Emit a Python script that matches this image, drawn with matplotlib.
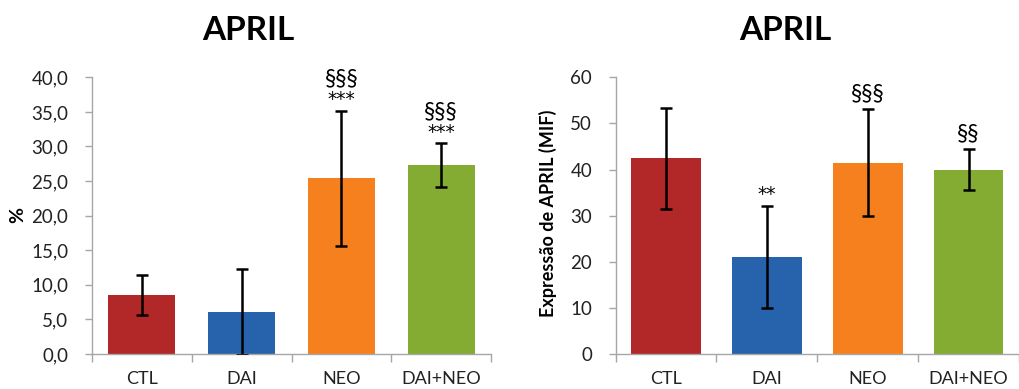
import matplotlib
matplotlib.use("Agg")
import matplotlib.pyplot as plt
import numpy as np

plt.rcParams['font.family'] = ['Lato', 'DejaVu Sans']

categories = ["CTL", "DAI", "NEO", "DAI+NEO"]
colors = ["#B22727", "#2763AC", "#F7801E", "#85AC32"]

left_values = [8.5, 6.1, 25.4, 27.3]
left_errors = [2.9, 6.2, 9.75, 3.15]
left_ticks = [0, 5, 10, 15, 20, 25, 30, 35, 40]
left_ticklabels = ["0,0", "5,0", "10,0", "15,0", "20,0", "25,0", "30,0", "35,0", "40,0"]
left_sect = ["", "", "§§§", "§§§"]
left_star = ["", "", "***", "***"]

right_values = [42.4, 21.0, 41.5, 40.0]
right_errors = [11.0, 11.1, 11.6, 4.5]
right_ticks = [0, 10, 20, 30, 40, 50, 60]
right_ticklabels = ["0", "10", "20", "30", "40", "50", "60"]
right_sect = ["", "", "§§§", "§§"]
right_star = ["", "**", "", ""]

fig = plt.figure(figsize=(10.2, 3.89), dpi=100)
axL = fig.add_axes([0.0902, 0.0900, 0.3912, 0.7113])
axR = fig.add_axes([0.6036, 0.0900, 0.3954, 0.7113])

spine_color = "#A6A6A6"

def draw(ax, values, errors, ticks, ticklabels, sects, stars, ymax, bw):
    x = np.arange(len(values))
    ax.bar(x, values, width=bw, color=colors, zorder=2)
    ax.errorbar(x, values, yerr=errors, fmt='none', ecolor='black',
                elinewidth=1.8, capsize=4.5, capthick=1.8, zorder=3, clip_on=True)
    ax.set_xlim(-0.5, len(values) - 0.5)
    ax.set_ylim(0, ymax)
    ax.set_yticks(ticks)
    ax.set_yticklabels(ticklabels, fontsize=13.5, color="#222222")
    ax.set_xticks(x)
    ax.set_xticklabels(categories, fontsize=13, color="#222222")
    ax.tick_params(axis='x', length=0, pad=12)
    ax.set_xticks(np.arange(len(values) + 1) - 0.5, minor=True)
    ax.tick_params(axis='x', which='minor', length=6, color=spine_color, width=1)
    ax.tick_params(axis='y', length=5, color=spine_color, width=1, pad=12)
    for s in ['top', 'right']:
        ax.spines[s].set_visible(False)
    for s in ['left', 'bottom']:
        ax.spines[s].set_color(spine_color)
        ax.spines[s].set_linewidth(1)
    for xi, v, e, sc, st in zip(x, values, errors, sects, stars):
        top = v + e
        if st:
            ax.annotate(st, (xi, top), xytext=(0, 4), textcoords='offset points',
                        ha='center', va='baseline', fontsize=13.5, family='DejaVu Sans',
                        annotation_clip=False)
            sect_off = 18
        else:
            sect_off = 6
        if sc:
            ax.annotate(sc, (xi, top), xytext=(0, sect_off), textcoords='offset points',
                        ha='center', va='baseline', fontsize=16.5,
                        annotation_clip=False)

draw(axL, left_values, left_errors, left_ticks, left_ticklabels, left_sect, left_star, 40, 0.67)
draw(axR, right_values, right_errors, right_ticks, right_ticklabels, right_sect, right_star, 60, 0.69)

fig.text(248 / 1020, 1 - 30 / 389, "APRIL", ha='center', va='center', fontsize=24, fontweight='bold')
fig.text(785 / 1020, 1 - 30 / 389, "APRIL", ha='center', va='center', fontsize=24, fontweight='bold')

fig.text(18 / 1020, 1 - 215 / 389, "%", rotation=90, ha='center', va='center', fontsize=14, fontweight='bold')
fig.text(548 / 1020, 1 - 213 / 389, "Expressão de APRIL (MIF)", rotation=90, ha='center', va='center',
         fontsize=13, fontweight='bold')

fig.savefig("out.png", dpi=100)
